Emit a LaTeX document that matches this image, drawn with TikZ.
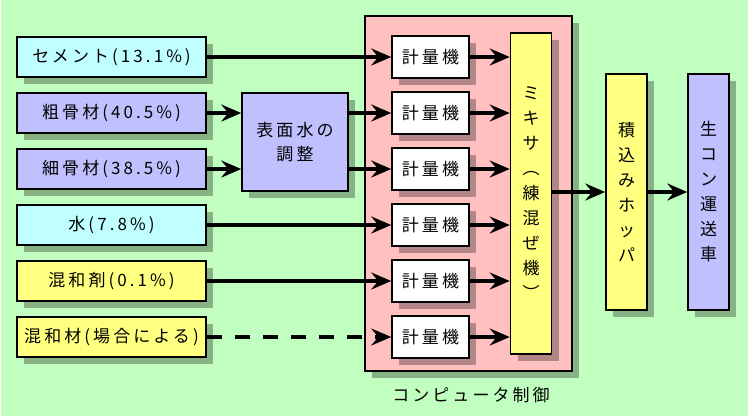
\documentclass[tikz,border=0pt]{standalone}
\usepackage{fontspec}
\newfontfamily\cjk[LetterSpace=18]{Noto Sans CJK JP}
\usetikzlibrary{arrows.meta}
\usetikzlibrary{shadows}
\definecolor{bggreen}{HTML}{C0FFC0}
\definecolor{boxcyan}{HTML}{C0FFFF}
\definecolor{boxblue}{HTML}{C0C0FF}
\definecolor{boxyellow}{HTML}{FFFF80}
\definecolor{boxpink}{HTML}{FFC0C0}

\begin{document}
\begin{tikzpicture}
[x=1bp,y=-1bp,%
  every node/.style={inner sep=0pt,font=\cjk\fontsize{17bp}{24bp}\selectfont},%
  box/.style={shape=rectangle,draw,line width=1.5bp,%
    drop shadow={shadow xshift=7bp,shadow yshift=-7bp,opacity=0.3,fill=black}},%
  inbox/.style={box,minimum width=189bp,minimum height=40bp},%
  meter/.style={box,fill=white,minimum width=77bp,minimum height=42bp},%
  tall/.style={box,minimum width=41bp,align=center,font=\cjk\fontsize{17bp}{25bp}\selectfont},%
  flow/.style={->,>={Stealth[length=20bp,width=17bp,inset=7bp]},line width=3.5bp}]
\useasboundingbox (0,0) rectangle (756,419);
\fill[bggreen] (1,0) rectangle (748,416);
% materials
\node[inbox,fill=boxcyan] (cement) at (111.5,57) {セメント(13.1\%)};
\node[inbox,fill=boxblue] (coarse) at (111.5,113) {粗骨材(40.5\%)};
\node[inbox,fill=boxblue] (fine) at (111.5,169) {細骨材(38.5\%)};
\node[inbox,fill=boxcyan] (water) at (111.5,225) {水(7.8\%)};
\node[inbox,fill=boxyellow] (admix) at (111.5,281) {混和剤(0.1\%)};
\node[inbox,fill=boxyellow] (addit) at (111.5,337) {混和材(場合による)};
\node[box,fill=boxblue,minimum width=106bp,minimum height=98bp,align=center]
  (adjust) at (295,142) {表面水の\\調整};
% plant
\node[box,fill=boxpink,minimum width=207bp,minimum height=355bp] (ctrl) at (468.5,193.5) {};
\node (ctrllabel) at (471,395) {コンピュータ制御};
\node[meter] (m1) at (430.5,57) {計量機};
\node[meter] (m2) at (430.5,113) {計量機};
\node[meter] (m3) at (430.5,169) {計量機};
\node[meter] (m4) at (430.5,225) {計量機};
\node[meter] (m5) at (430.5,281) {計量機};
\node[meter] (m6) at (430.5,337) {計量機};
\node[tall,fill=boxyellow,minimum height=321bp] (mixer) at (531,193.5)
  {ミ\\キ\\サ\\︵\\練\\混\\ぜ\\機\\︶};
\node[tall,fill=boxyellow,minimum height=236bp] (hopper) at (626.5,192)
  {積\\込\\み\\ホ\\ッ\\パ};
\node[tall,fill=boxblue,minimum height=236bp] (truck) at (708.5,192)
  {生\\コ\\ン\\運\\送\\車};
% flows
\draw[flow] (cement) -- (m1);
\draw[flow] (coarse) -- (coarse -| adjust.west);
\draw[flow] (fine) -- (fine -| adjust.west);
\draw[flow] (adjust.east |- m2) -- (m2);
\draw[flow] (adjust.east |- m3) -- (m3);
\draw[flow] (water) -- (m4);
\draw[flow] (admix) -- (m5);
\draw[flow,dash pattern=on 15bp off 13bp] (addit) -- (m6);
\draw[flow] (m1) -- (m1 -| mixer.west);
\draw[flow] (m2) -- (m2 -| mixer.west);
\draw[flow] (m3) -- (m3 -| mixer.west);
\draw[flow] (m4) -- (m4 -| mixer.west);
\draw[flow] (m5) -- (m5 -| mixer.west);
\draw[flow] (m6) -- (m6 -| mixer.west);
\draw[flow] (mixer.east |- hopper) -- (hopper);
\draw[flow] (hopper) -- (truck);
\end{tikzpicture}
\end{document}
